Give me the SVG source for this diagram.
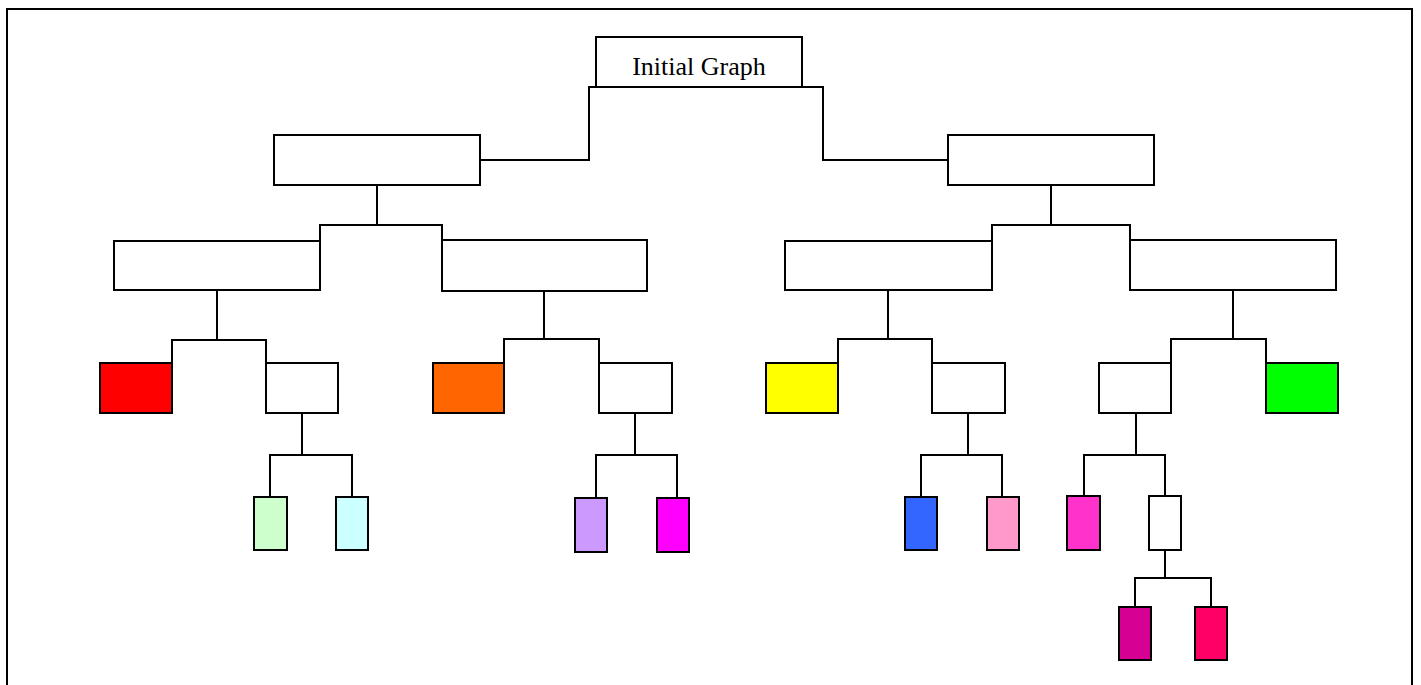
<svg xmlns="http://www.w3.org/2000/svg" width="1421" height="685" viewBox="0 0 1421 685">
<style>
.n{stroke:#000;stroke-width:2;fill:#fff}
.c{stroke:#000;stroke-width:2;fill:none}
.t{font-family:"Liberation Serif","Times New Roman",serif;font-size:26px;fill:#000}
</style>
<rect x="0" y="0" width="1421" height="685" fill="#fff"/>
<rect x="7" y="9" width="1405" height="700" class="c"/>
<g id="connectors">
<polyline class="c" points="480,160 589,160 589,87 823,87 823,160 948,160"/>
<polyline class="c" points="377,185 377,225"/>
<polyline class="c" points="320,240 320,225 442,225 442,240"/>
<polyline class="c" points="1051,185 1051,225"/>
<polyline class="c" points="992,240 992,225 1130,225 1130,240"/>
<polyline class="c" points="217,290 217,340"/>
<polyline class="c" points="172,363 172,340 266,340 266,363"/>
<polyline class="c" points="544,291 544,339"/>
<polyline class="c" points="504,363 504,339 599,339 599,363"/>
<polyline class="c" points="888,290 888,339"/>
<polyline class="c" points="838,363 838,339 932,339 932,363"/>
<polyline class="c" points="1233,290 1233,339"/>
<polyline class="c" points="1171,363 1171,339 1266,339 1266,363"/>
<polyline class="c" points="302,413 302,455"/>
<polyline class="c" points="270,497 270,455 352,455 352,497"/>
<polyline class="c" points="635,413 635,455"/>
<polyline class="c" points="596,498 596,455 677,455 677,498"/>
<polyline class="c" points="968,413 968,455"/>
<polyline class="c" points="921,497 921,455 1002,455 1002,497"/>
<polyline class="c" points="1136,413 1136,455"/>
<polyline class="c" points="1084,496 1084,455 1165,455 1165,496"/>
<polyline class="c" points="1165,550 1165,578"/>
<polyline class="c" points="1135,607 1135,578 1211,578 1211,607"/>
</g>
<g id="root"><rect class="n" x="596" y="37" width="206" height="50"/><text class="t" x="699" y="75" text-anchor="middle">Initial Graph</text></g>
<g id="n1"><rect class="n" x="274" y="135" width="206" height="50"/></g>
<g id="n2"><rect class="n" x="948" y="135" width="206" height="50"/></g>
<g id="n11"><rect class="n" x="114" y="241" width="206" height="49"/></g>
<g id="n12"><rect class="n" x="442" y="240" width="205" height="51"/></g>
<g id="n21"><rect class="n" x="785" y="241" width="207" height="49"/></g>
<g id="n22"><rect class="n" x="1130" y="240" width="206" height="50"/></g>
<g id="red"><rect class="n" x="100" y="363" width="72" height="50" style="fill:#FF0000"/></g>
<g id="w1"><rect class="n" x="266" y="363" width="72" height="50"/></g>
<g id="orange"><rect class="n" x="433" y="363" width="71" height="50" style="fill:#FF6600"/></g>
<g id="w2"><rect class="n" x="599" y="363" width="73" height="50"/></g>
<g id="yellow"><rect class="n" x="766" y="363" width="72" height="50" style="fill:#FFFF00"/></g>
<g id="w3"><rect class="n" x="932" y="363" width="73" height="50"/></g>
<g id="w4"><rect class="n" x="1099" y="363" width="72" height="50"/></g>
<g id="green"><rect class="n" x="1266" y="363" width="72" height="50" style="fill:#00FF00"/></g>
<g id="lgreen"><rect class="n" x="254" y="497" width="33" height="53" style="fill:#CCFFCC"/></g>
<g id="lcyan"><rect class="n" x="336" y="497" width="32" height="53" style="fill:#CCFFFF"/></g>
<g id="lavender"><rect class="n" x="575" y="498" width="32" height="54" style="fill:#CC99FF"/></g>
<g id="magenta"><rect class="n" x="657" y="498" width="32" height="54" style="fill:#FF00FF"/></g>
<g id="blue"><rect class="n" x="905" y="497" width="32" height="53" style="fill:#3366FF"/></g>
<g id="pink"><rect class="n" x="987" y="497" width="32" height="53" style="fill:#FF99CC"/></g>
<g id="hotpink"><rect class="n" x="1067" y="496" width="33" height="54" style="fill:#FF33CC"/></g>
<g id="w5"><rect class="n" x="1149" y="496" width="32" height="54"/></g>
<g id="plum"><rect class="n" x="1119" y="607" width="32" height="53" style="fill:#D60093"/></g>
<g id="rose"><rect class="n" x="1195" y="607" width="32" height="53" style="fill:#FF0066"/></g>
</svg>
